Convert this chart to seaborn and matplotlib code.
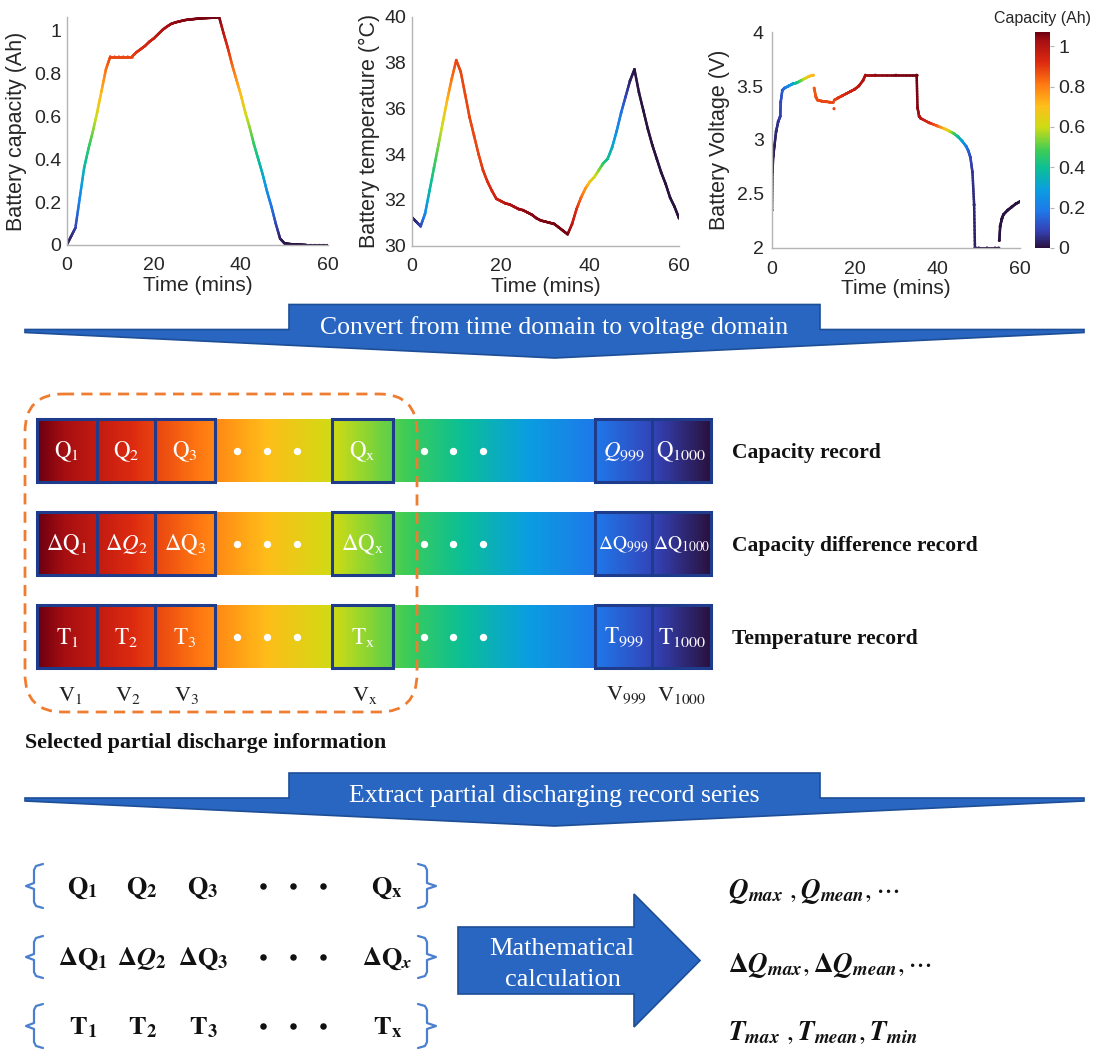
import numpy as np
import matplotlib
matplotlib.use("Agg")
import matplotlib.pyplot as plt
import seaborn as sns
import pandas as pd
from matplotlib.collections import LineCollection
from matplotlib.colors import LinearSegmentedColormap, Normalize
from matplotlib.patches import Polygon, Rectangle, FancyBboxPatch
from matplotlib.cm import ScalarMappable

sns.set_theme(style="white")
plt.rcParams['font.family'] = ['Liberation Sans', 'DejaVu Sans']
plt.rcParams['mathtext.fontset'] = 'stix'

# ---------------- data ----------------
time_min = list(range(61))
capacity_ah = [0.0, 0.04, 0.08, 0.22, 0.36, 0.45, 0.53, 0.62, 0.72, 0.82,
               0.88, 0.88, 0.88, 0.88, 0.88, 0.88, 0.90, 0.915, 0.93, 0.95,
               0.965, 0.985, 1.005, 1.02, 1.033, 1.04, 1.045, 1.05, 1.053, 1.055,
               1.057, 1.059, 1.06, 1.061, 1.062, 1.065, 0.99, 0.92, 0.84, 0.77,
               0.70, 0.62, 0.55, 0.47, 0.40, 0.33, 0.25, 0.18, 0.10, 0.03,
               0.008, 0.005, 0.003, 0.002, 0.001, 0.0, 0.0, 0.0, 0.0, 0.0, 0.0]
temperature_c = [31.25, 31.05, 30.85, 31.4, 32.4, 33.4, 34.4, 35.4, 36.4, 37.3,
                 38.1, 37.6, 36.6, 35.6, 34.8, 34.0, 33.3, 32.8, 32.4, 32.05,
                 31.95, 31.85, 31.8, 31.7, 31.6, 31.55, 31.45, 31.35, 31.2, 31.1,
                 31.05, 31.0, 30.95, 30.8, 30.65, 30.5, 30.95, 31.6, 32.1, 32.5,
                 32.8, 33.0, 33.3, 33.6, 33.8, 34.3, 35.0, 35.8, 36.5, 37.2,
                 37.7, 36.7, 35.9, 35.1, 34.4, 33.8, 33.2, 32.7, 32.1, 31.7, 31.2]
nan = np.nan
volt_time = [0, 0.1, 0.3, 0.6, 1.0, 1.5, 2.0, 2.1, 2.5, 3, 4, 5, 6, 7, 8, 9, 10, nan,
             10.2, 10.6, 11, 12, 13, 14, 14.8, nan, 15.0, nan,
             15.1, 16, 17, 18, 19, 20, 21, 22, 22.6, 25, 30, 35, 35.2, 35.6, 36, 38, 40,
             42, 43, 44, 45, 46, 47, 47.5, 48, 48.5, 48.9, 49.1, 49.3, 50, 52, 54, 54.8, nan,
             55.0, 55.2, 55.6, 56, 57, 58, 59, 60]
volt_v = [2.35, 2.7, 2.85, 2.95, 3.08, 3.17, 3.22, 3.35, 3.46, 3.48, 3.5, 3.52, 3.53, 3.55, 3.57, 3.59, 3.6, nan,
          3.48, 3.4, 3.37, 3.36, 3.355, 3.35, 3.35, nan, 3.29, nan,
          3.37, 3.39, 3.41, 3.43, 3.45, 3.47, 3.5, 3.55, 3.6, 3.6, 3.6, 3.6, 3.3, 3.22, 3.2, 3.16, 3.13,
          3.1, 3.08, 3.06, 3.03, 2.99, 2.94, 2.9, 2.84, 2.7, 2.4, 2.0, 2.0, 2.0, 2.0, 2.0, 2.0, nan,
          2.07, 2.2, 2.27, 2.31, 2.35, 2.38, 2.41, 2.43]
volt_cap = [0.0, 0.01, 0.015, 0.02, 0.04, 0.06, 0.08, 0.1, 0.13, 0.16, 0.22, 0.3, 0.4, 0.5, 0.6, 0.68, 0.72, nan,
            0.85, 0.86, 0.87, 0.88, 0.88, 0.88, 0.88, nan, 0.88, nan,
            0.88, 0.9, 0.915, 0.93, 0.95, 0.965, 0.985, 1.005, 1.02, 1.04, 1.057, 1.065, 1.05, 1.02, 1.0, 0.93, 0.85,
            0.7, 0.6, 0.5, 0.4, 0.3, 0.2, 0.15, 0.1, 0.065, 0.04, 0.03, 0.02, 0.008, 0.003, 0.001, 0.0, nan,
            0.0, 0.0, 0.0, 0.0, 0.0, 0.0, 0.0, 0.0]

cap_ticks = [0, 0.2, 0.4, 0.6, 0.8, 1.0]
cap_tick_labels = ["0", "0.2", "0.4", "0.6", "0.8", "1"]
temp_ticks = [30, 32, 34, 36, 38, 40]
volt_ticks = [2, 2.5, 3, 3.5, 4]
volt_tick_labels = ["2", "2.5", "3", "3.5", "4"]
time_ticks = [0, 20, 40, 60]

row_names = ["Capacity record", "Capacity difference record", "Temperature record"]
row_box_labels = [
    [r'$\mathrm{Q}_1$', r'$\mathrm{Q}_2$', r'$\mathrm{Q}_3$', r'$\mathrm{Q}_\mathrm{x}$', r'$Q_{999}$', r'$\mathrm{Q}_{1000}$'],
    [r'$\Delta\mathrm{Q}_1$', r'$\Delta Q_2$', r'$\Delta\mathrm{Q}_3$', r'$\Delta\mathrm{Q}_\mathrm{x}$', r'$\Delta\mathrm{Q}_{999}$', r'$\Delta\mathrm{Q}_{1000}$'],
    [r'$\mathrm{T}_1$', r'$\mathrm{T}_2$', r'$\mathrm{T}_3$', r'$\mathrm{T}_\mathrm{x}$', r'$\mathrm{T}_{999}$', r'$\mathrm{T}_{1000}$'],
]
v_labels = [r'$\mathrm{V}_1$', r'$\mathrm{V}_2$', r'$\mathrm{V}_3$', r'$\mathrm{V}_\mathrm{x}$', r'$\mathrm{V}_{999}$', r'$\mathrm{V}_{1000}$']
series_labels = [
    [r'$\mathbf{Q}_\mathbf{1}$', r'$\mathbf{Q}_\mathbf{2}$', r'$\mathbf{Q}_\mathbf{3}$', r'$\mathbf{Q}_\mathbf{x}$'],
    [r'$\mathbf{\Delta Q}_\mathbf{1}$', r'$\mathbf{\Delta}\mathbfit{Q}_\mathbf{2}$', r'$\mathbf{\Delta Q}_\mathbf{3}$', r'$\mathbf{\Delta Q}_\mathbfit{x}$'],
    [r'$\mathbf{T}_\mathbf{1}$', r'$\mathbf{T}_\mathbf{2}$', r'$\mathbf{T}_\mathbf{3}$', r'$\mathbf{T}_\mathbf{x}$'],
]
stat_labels = [
    r'$\mathbfit{Q}_{\mathbfit{max}}\ ,\mathbfit{Q}_{\mathbfit{mean}},\cdots$',
    r'$\mathbf{\Delta}\mathbfit{Q}_{\mathbfit{max}},\mathbf{\Delta}\mathbfit{Q}_{\mathbfit{mean}},\cdots$',
    r'$\mathbfit{T}_{\mathbfit{max}}\ ,\mathbfit{T}_{\mathbfit{mean}},\mathbfit{T}_{\mathbfit{min}}$',
]

# ---------------- colormap ----------------
cap_max = 1.07
cmap_nodes = [(0.00, "#2a1240"), (0.08, "#3442b6"), (0.17, "#1f78ea"), (0.27, "#0a9ee0"),
              (0.37, "#0cbf95"), (0.45, "#3ccc58"), (0.56, "#cfdc14"), (0.66, "#ffbd1a"),
              (0.76, "#ff7812"), (0.86, "#dd2a10"), (0.96, "#a80f12"), (1.00, "#6e0010")]
cmap = LinearSegmentedColormap.from_list("cap", cmap_nodes)
norm = Normalize(0, cap_max)

W, H = 1097, 1051
fig = plt.figure(figsize=(W / 100, H / 100), dpi=100)
fig.patch.set_facecolor("white")

ov = fig.add_axes([0, 0, 1, 1])
ov.set_facecolor("none")
ov.axis("off")


def px_axes(x0, y0, x1, y1):
    return fig.add_axes([x0 / W, 1 - y1 / H, (x1 - x0) / W, (y1 - y0) / H])


def colored_line(ax, x, y, c, lw=1.8):
    x = np.asarray(x, float); y = np.asarray(y, float); c = np.asarray(c, float)
    segs, vals = [], []
    for i in range(len(x) - 1):
        if np.isnan([x[i], x[i + 1], y[i], y[i + 1]]).any():
            continue
        fr = np.linspace(0, 1, 13)
        xs = x[i] + (x[i + 1] - x[i]) * fr
        ys = y[i] + (y[i + 1] - y[i]) * fr
        cs = c[i] + (c[i + 1] - c[i]) * fr
        for k in range(len(fr) - 1):
            segs.append([(xs[k], ys[k]), (xs[k + 1], ys[k + 1])])
            vals.append(0.5 * (cs[k] + cs[k + 1]))
    lc = LineCollection(segs, cmap=cmap, norm=norm, linewidths=lw, capstyle="round")
    lc.set_array(np.array(vals))
    ax.add_collection(lc)


def style_axes(ax):
    for s in ["top", "right"]:
        ax.spines[s].set_visible(False)
    for s in ["left", "bottom"]:
        ax.spines[s].set_color("#b4b4b4")
        ax.spines[s].set_linewidth(1.0)
    ax.tick_params(direction="in", length=3, width=0.8, color="#b4b4b4",
                   labelsize=14, labelcolor="#262626")
    ax.tick_params(axis="x", pad=9)
    ax.tick_params(axis="y", pad=4)
    ax.set_xlim(0, 60)
    ax.set_xticks(time_ticks)
    ax.set_xlabel("Time (mins)", fontsize=15, color="#262626", labelpad=1)


df1 = pd.DataFrame({"t": time_min, "cap": capacity_ah, "temp": temperature_c})
df3 = pd.DataFrame({"t": volt_time, "v": volt_v, "cap": volt_cap}).dropna()

# plot 1: capacity
ax1 = px_axes(66.7, 17, 328, 245)
colored_line(ax1, time_min, capacity_ah, capacity_ah, lw=1.8)
sns.scatterplot(data=df1, x="t", y="cap", hue="cap", palette=cmap, hue_norm=norm,
                s=3, linewidth=0, legend=False, ax=ax1)
style_axes(ax1)
ax1.set_ylim(0, 1.065)
ax1.set_yticks(cap_ticks)
ax1.set_yticklabels(cap_tick_labels)
ax1.set_ylabel("Battery capacity (Ah)", fontsize=15.5, color="#262626", labelpad=5)

# plot 2: temperature
ax2 = px_axes(411.7, 16.7, 679, 245.7)
colored_line(ax2, time_min, temperature_c, capacity_ah, lw=1.8)
sns.scatterplot(data=df1, x="t", y="temp", hue="cap", palette=cmap, hue_norm=norm,
                s=4, linewidth=0, legend=False, ax=ax2)
style_axes(ax2)
ax2.set_ylim(30, 40)
ax2.set_yticks(temp_ticks)
ax2.set_ylabel("Battery temperature (°C)", fontsize=15.5, color="#262626", labelpad=3)

# plot 3: voltage
ax3 = px_axes(772, 32, 1020, 248)
colored_line(ax3, volt_time, volt_v, volt_cap, lw=1.8)
sns.scatterplot(data=df3, x="t", y="v", hue="cap", palette=cmap, hue_norm=norm,
                s=5, linewidth=0, legend=False, ax=ax3)
style_axes(ax3)
ax3.tick_params(axis="y", pad=6)
ax3.set_ylim(2, 4)
ax3.set_yticks(volt_ticks)
ax3.set_yticklabels(volt_tick_labels)
ax3.set_ylabel("Battery Voltage (V)", fontsize=15.5, color="#262626", labelpad=5)

# colorbar
cax = px_axes(1035, 32, 1050, 248)
cb = fig.colorbar(ScalarMappable(norm=norm, cmap=cmap), cax=cax, ticks=cap_ticks)
cb.outline.set_visible(False)
cb.ax.set_yticklabels(cap_tick_labels)
cb.ax.tick_params(length=3, width=0.8, color="#b4b4b4", labelsize=14, labelcolor="#262626", pad=3)
fig.text(1042 / W, 1 - 18 / H, "Capacity (Ah)", ha="center", va="center", fontsize=11.5, color="#262626")

# ---------------- diagram ----------------
BLUE, BLUE_EDGE = "#2866c1", "#1d4e96"
SERIF = ["Liberation Serif", "DejaVu Serif"]


def banner(ytop, yband, yleft, ytip, text, text_base):
    pts = [(25, yband), (289, yband), (289, ytop), (820, ytop), (820, yband), (1084, yband),
           (1084, yleft), (554.5, ytip), (25, yleft)]
    ov.add_patch(Polygon(pts, closed=True, fc=BLUE, ec=BLUE_EDGE, lw=1.2, joinstyle="miter"))
    ov.text(554.5, text_base, text, ha="center", va="baseline", color="white",
            fontsize=18.5, family=SERIF)


banner(304.5, 329.5, 332.5, 358, "Convert from time domain to voltage domain", 334)
banner(773, 798, 801, 826, "Extract partial discharging record series", 802)

# gradient record bars
bar_x0, bar_x1 = 37, 711
row_tops = [419, 512, 605]
row_h = 63
grad = np.linspace(cap_max, 0, 800)[None, :]
box_edges = [(37, 97), (97, 155), (155, 215), (332, 393), (595, 652), (652, 711)]
dot_x = [237, 267, 297, 424, 453, 483]
for r, top in enumerate(row_tops):
    ov.imshow(grad, extent=(bar_x0, bar_x1, top + row_h, top), cmap=cmap, norm=norm,
              aspect="auto", interpolation="bilinear", zorder=1)
    for k, ((a, b), lab) in enumerate(zip(box_edges, row_box_labels[r])):
        ov.add_patch(Rectangle((a, top), b - a, row_h, fc="none", ec="#1f3c8c", lw=2.2, zorder=2))
        fs = 14 if (r == 1 and k >= 4) else 16.5
        ov.text((a + b) / 2, top + row_h / 2 + 1, lab, ha="center", va="center", color="white",
                fontsize=fs, zorder=3)
    ov.scatter(dot_x, [top + row_h / 2] * len(dot_x), s=28, color="white", zorder=3, linewidths=0)
    ov.text(732, top + 34, row_names[r], ha="left", va="center", fontsize=15.5,
            fontweight="bold", family=SERIF, color="#111111")

v_x = [70, 128, 187, 365, 627, 682]
for x, lab in zip(v_x, v_labels):
    ov.text(x, 695, lab, ha="center", va="center", fontsize=16, color="#222222")

ov.add_patch(FancyBboxPatch((25, 394), 392, 318, boxstyle="round,pad=0,rounding_size=38",
                            fc="none", ec="#ef7d31", lw=2, ls=(0, (4, 2.6)), zorder=4))
ov.text(25, 743, "Selected partial discharge information", ha="left", va="center",
        fontsize=15.8, fontweight="bold", family=SERIF, color="#111111")

# bottom series with braces
brace_rows = [(864, 908), (936, 978), (1004, 1048)]
series_x = [83, 142, 203, 387]
sdot_x = [263, 293, 323]
for r, (t, b) in enumerate(brace_rows):
    m = (t + b) / 2
    left = [(43, t), (36, t + 2), (34, t + 6), (34, m - 3), (26, m), (34, m + 3), (34, b - 6), (36, b - 2), (43, b)]
    right = [(418, t), (425, t + 2), (427, t + 6), (427, m - 3), (436, m), (427, m + 3), (427, b - 6), (425, b - 2), (418, b)]
    for pts in (left, right):
        xs, ys = zip(*pts)
        ov.plot(xs, ys, color="#4a7fcf", lw=1.6, solid_joinstyle="round")
    for x, lab in zip(series_x, series_labels[r]):
        ov.text(x, m + 2, lab, ha="center", va="center", fontsize=19, color="#111111")
    ov.scatter(sdot_x, [m] * 3, s=22, color="#111111", linewidths=0)

# big arrow
ov.add_patch(Polygon([(458, 927), (634, 927), (634, 894), (700, 960.5), (634, 1027),
                      (634, 994), (458, 994)], closed=True, fc=BLUE, ec=BLUE_EDGE, lw=1.2,
                     joinstyle="miter"))
ov.text(562, 955, "Mathematical", ha="center", va="baseline", color="white", fontsize=19, family=SERIF)
ov.text(563, 986, "calculation", ha="center", va="baseline", color="white", fontsize=19, family=SERIF)

for y, lab in zip([892, 965, 1033], stat_labels):
    ov.text(728, y, lab, ha="left", va="center", fontsize=19.5, color="#111111")

ov.set_xlim(0, W)
ov.set_ylim(H, 0)

fig.savefig("out.png", dpi=100)
